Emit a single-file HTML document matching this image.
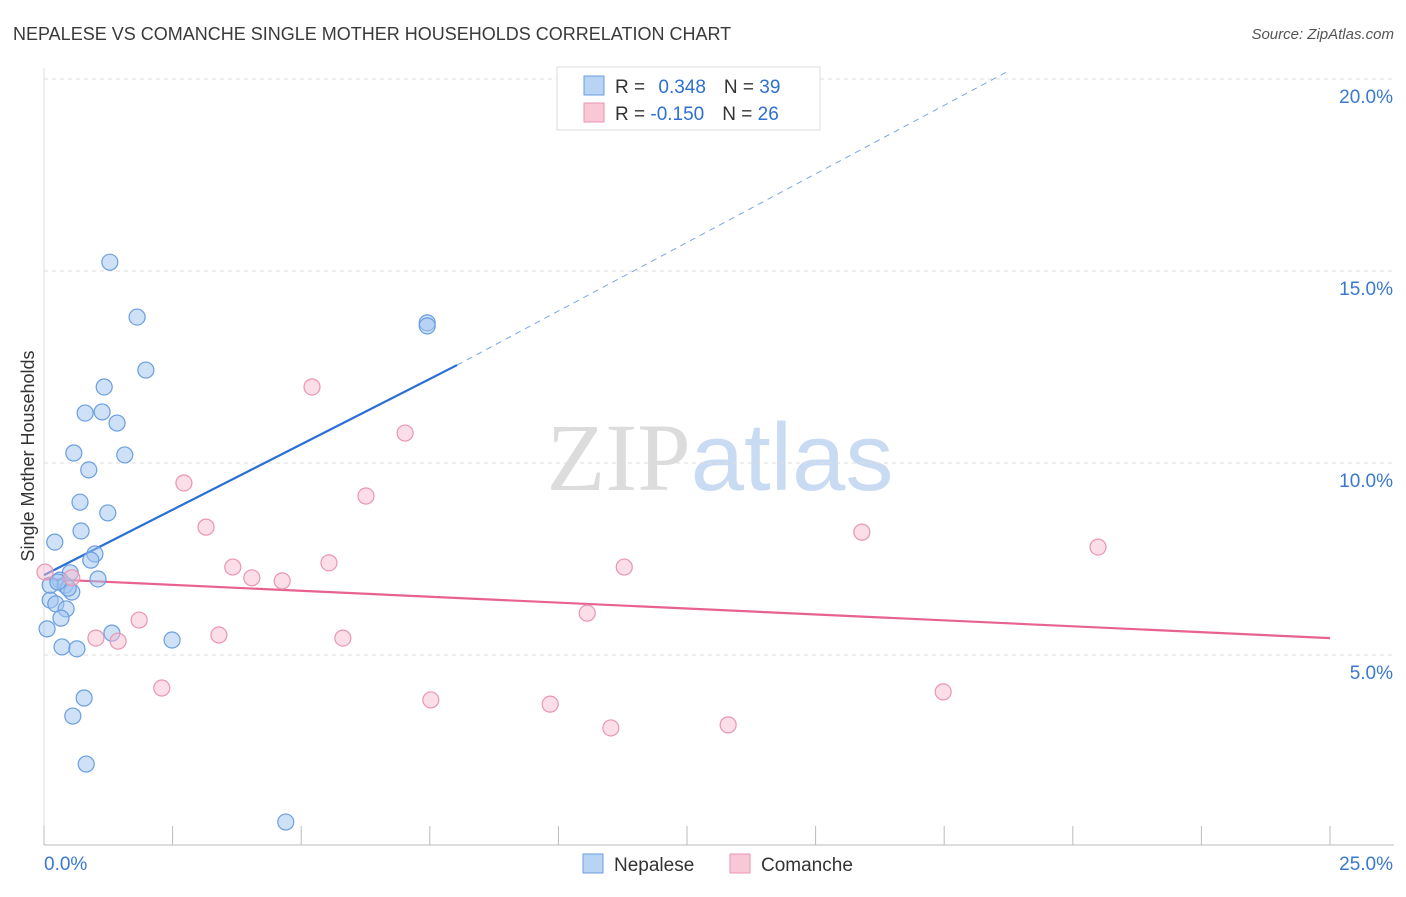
<!DOCTYPE html>
<html><head><meta charset="utf-8"><style>
body{margin:0;background:#fff;font-family:"Liberation Sans",sans-serif;}
</style></head><body>
<svg id="chart" width="1406" height="892" xmlns="http://www.w3.org/2000/svg" style="font-family:'Liberation Sans',sans-serif">
<text x="13" y="40" font-size="18" fill="#3a3a3a">NEPALESE VS COMANCHE SINGLE MOTHER HOUSEHOLDS CORRELATION CHART</text>
<text x="1394" y="39" font-size="15" fill="#555" text-anchor="end" font-style="italic">Source: ZipAtlas.com</text>
<text transform="translate(34,456) rotate(-90)" font-size="18" fill="#333" text-anchor="middle">Single Mother Households</text>
<text x="720" y="490" font-size="96" text-anchor="middle"><tspan fill="#dcdcdc" font-family="Liberation Serif">ZIP</tspan><tspan fill="#c9dbf2">atlas</tspan></text>
<g id="grid"></g><g id="axes"></g><g id="lines"></g><g id="points"></g>
<g>
<rect x="557" y="67" width="263" height="63" fill="#fff" stroke="#ddd"/>
<rect x="584" y="76" width="20" height="19" fill="#b9d3f4" stroke="#6a9ee0"/>
<rect x="584" y="103" width="20" height="19" fill="#f9c8d6" stroke="#e996b0"/>
<text x="615" y="93" font-size="19" fill="#333">R = <tspan fill="#2f6fd0" dx="8">0.348</tspan><tspan dx="18" fill="#333">N = </tspan><tspan fill="#2f6fd0">39</tspan></text>
<text x="615" y="120" font-size="19" fill="#333">R = <tspan fill="#2f6fd0">-0.150</tspan><tspan dx="18" fill="#333">N = </tspan><tspan fill="#2f6fd0">26</tspan></text>
</g>
<g>
<rect x="583" y="854" width="20" height="19" fill="#b9d3f4" stroke="#6a9ee0"/>
<text x="614" y="871" font-size="19" fill="#333">Nepalese</text>
<rect x="730" y="854" width="20" height="19" fill="#f9c8d6" stroke="#e996b0"/>
<text x="761" y="871" font-size="19" fill="#333">Comanche</text>
</g>
</svg>
<script>
const blueX=[1.28,1.81,1.98,1.17,0.80,1.13,1.42,0.58,1.57,0.87,0.70,1.24,0.72,0.21,0.99,0.91,0.51,1.05,0.31,0.41,0.54,0.47,0.12,0.23,0.43,0.33,0.06,1.32,2.49,0.35,0.64,0.78,0.56,0.82,4.70,7.45,7.45,0.12,0.27];
const blueY=[15.23,13.80,12.42,11.98,11.30,11.33,11.04,10.26,10.21,9.82,8.98,8.70,8.23,7.94,7.63,7.47,7.14,6.98,6.95,6.82,6.64,6.74,6.43,6.33,6.20,5.96,5.68,5.57,5.39,5.21,5.16,3.88,3.41,2.16,0.65,13.65,13.57,6.82,6.90];
const pinkX=[0.02,0.54,5.21,7.02,2.72,6.26,3.15,3.67,4.04,4.63,5.54,1.85,1.01,1.44,3.40,5.81,10.56,11.28,15.90,20.49,2.29,7.52,9.84,11.02,13.30,17.48];
const pinkY=[7.16,7.01,11.98,10.78,9.48,9.14,8.33,7.29,7.01,6.93,7.40,5.91,5.44,5.36,5.52,5.44,6.09,7.29,8.20,7.81,4.14,3.83,3.72,3.10,3.18,4.04];
const yTicks=[5,10,15,20];
const yTickLabels=["5.0%","10.0%","15.0%","20.0%"];
const xTicks=[0,2.5,5,7.5,10,12.5,15,17.5,20,22.5,25];
const blueTrend=[[0,7.08],[8.03,12.55]];
const blueTrendExt=[[8.03,12.55],[18.78,20.23]];
const pinkTrend=[[0,6.98],[25,5.44]];

const NS="http://www.w3.org/2000/svg";
const sx=v=>44+v*51.44, sy=v=>847-v*38.4;
function mk(tag,attrs,parent){const e=document.createElementNS(NS,tag);for(const k in attrs)e.setAttribute(k,attrs[k]);document.getElementById(parent).appendChild(e);return e;}
yTicks.forEach((t,i)=>{
 const g=mk('line',{x1:44,x2:1394,y1:sy(t),y2:sy(t),stroke:'#ddd','stroke-dasharray':'4,4'},'grid');
 
 
 const l=mk('text',{x:1393,y:sy(t)+24,'font-size':19,fill:'#3a78d0','text-anchor':'end'},'axes');
 l.textContent=yTickLabels[i];
 
 
});
const ax=mk('line',{x1:44,x2:1394,y1:845,y2:845,stroke:'#bbb'},'axes');


const ay=mk('line',{x1:44,x2:44,y1:68,y2:845,stroke:'#ddd'},'axes');


xTicks.forEach(t=>{
 const tk=mk('line',{x1:sx(t),x2:sx(t),y1:826,y2:845,stroke:'#bbb'},'axes');
 
 
});
const xl0=mk('text',{x:44,y:870,'font-size':19,fill:'#3a78d0'},'axes');xl0.textContent="0.0%";


const xl1=mk('text',{x:1393,y:870,'font-size':19,fill:'#3a78d0','text-anchor':'end'},'axes');xl1.textContent="25.0%";


function line(p,stroke,w,dash,name){const e=mk('line',{x1:sx(p[0][0]),y1:sy(p[0][1]),x2:sx(p[1][0]),y2:sy(p[1][1]),stroke:stroke,'stroke-width':w},'lines');if(dash)e.setAttribute('stroke-dasharray',dash);
 
 }
line(blueTrend,'#2a6fd6',2.2,null,'nepalese-trendline');
line(blueTrendExt,'#7aa6e6',1,'6,5','nepalese-trendline-extension');
line(pinkTrend,'#e8628f',2.2,null,'comanche-trendline');
blueX.forEach((x,i)=>{const c=mk('circle',{cx:sx(x),cy:sy(blueY[i]),r:8,fill:'rgba(160,196,240,0.5)',stroke:'#6a9ee0','stroke-width':1.2},'points');
 
 });
pinkX.forEach((x,i)=>{const c=mk('circle',{cx:sx(x),cy:sy(pinkY[i]),r:8,fill:'rgba(248,190,208,0.5)',stroke:'#e996b0','stroke-width':1.2},'points');
 
 });
</script>
</body></html>
